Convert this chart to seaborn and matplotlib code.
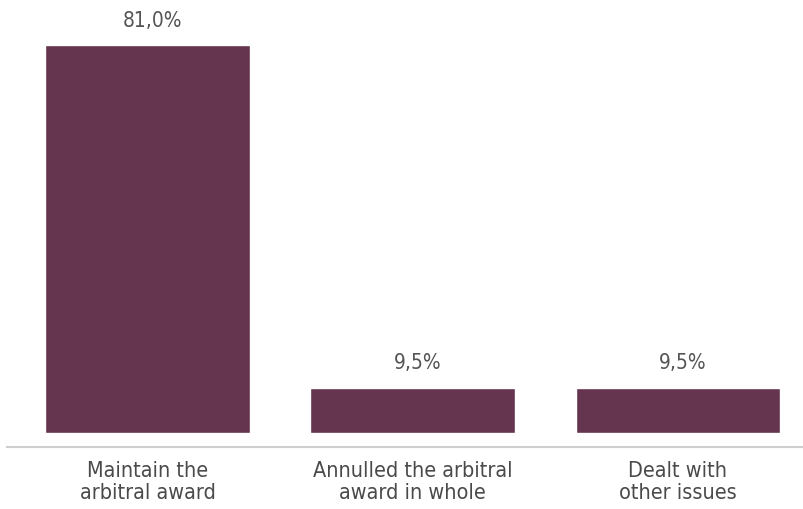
import matplotlib
matplotlib.use("Agg")
import matplotlib.pyplot as plt
import seaborn as sns
import pandas as pd

categories = ["Maintain the\narbitral award", "Annulled the arbitral\naward in whole", "Dealt with\nother issues"]
values = [81.0, 9.5, 9.5]
value_labels = ["81,0%", "9,5%", "9,5%"]

sns.set_style("white")
plt.rcParams['font.family'] = ['DejaVu Sans']
plt.rcParams['font.stretch'] = 'condensed'

df = pd.DataFrame({"cat": categories, "val": values})

fig = plt.figure(figsize=(8.04, 5.09), dpi=100)
ax = fig.add_axes([7/804, 62/509, 797/804, 447/509])
sns.barplot(data=df, x="cat", y="val", color="#65344E", width=0.77, saturation=1, ax=ax)

ax.set_xlim(-0.53, 2.477)
ax.set_ylim(-2.92, 90.4)
for sp in ["top", "left", "right"]:
    ax.spines[sp].set_visible(False)
ax.spines["bottom"].set_color("#cfcfcf")
ax.spines["bottom"].set_linewidth(1.5)
ax.set_xlabel("")
ax.set_ylabel("")
ax.set_yticks([])
ax.tick_params(axis="x", length=0, pad=10, labelsize=15.5, labelcolor="#4a4a4a")
ax.set_xticks(range(len(categories)))
ax.set_xticklabels(categories, linespacing=1.12, fontstretch='condensed')

for i, (v, lab) in enumerate(zip(values, value_labels)):
    ax.text(i + 0.02, v + 3.0, lab, ha="center", va="bottom", fontsize=15,
            color="#555555", fontstretch='condensed')

fig.savefig("out.png", dpi=100)
